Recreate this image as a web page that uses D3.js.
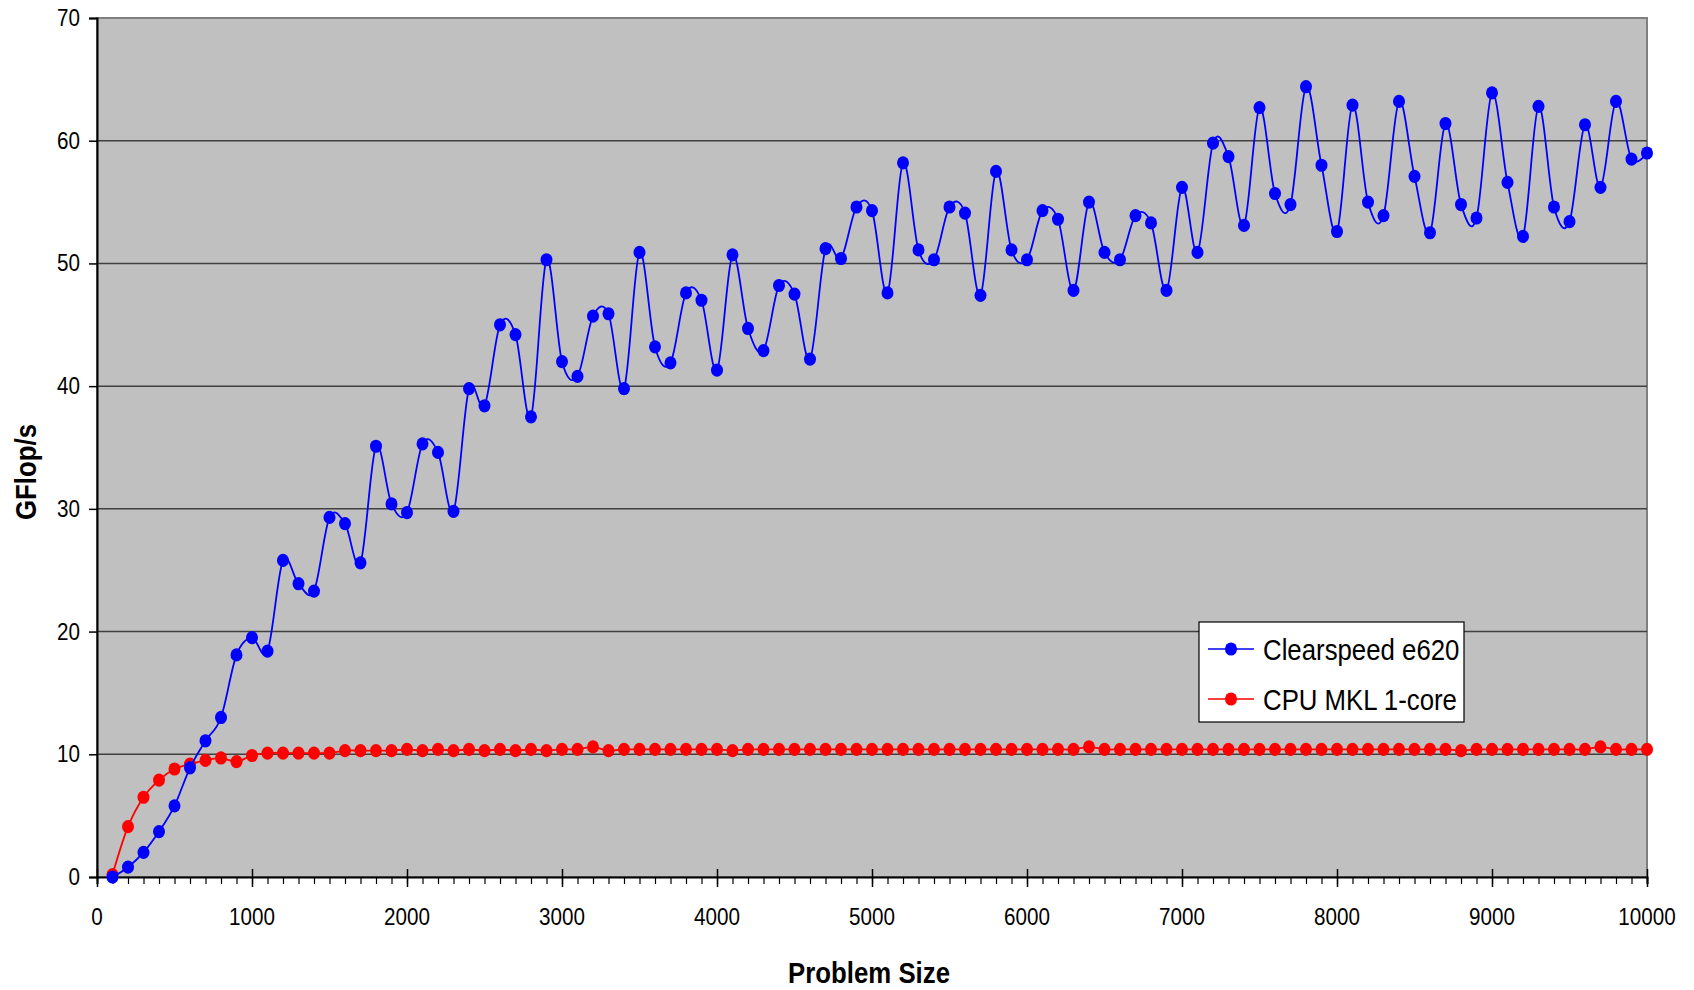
<!DOCTYPE html>
<html>
<head>
<meta charset="utf-8">
<script src="https://cdn.jsdelivr.net/npm/d3@7"></script>
<style>
  body { margin: 0; background: #fff; }
  svg { display: block; font-family: "Liberation Sans", Arial, sans-serif; }
</style>
</head>
<body>
<svg id="chart" width="1694" height="990"></svg>
<script>
// problem sizes 100..10000
const sizes = [100,200,300,400,500,600,700,800,900,1000,
  1100,1200,1300,1400,1500,1600,1700,1800,1900,2000,
  2100,2200,2300,2400,2500,2600,2700,2800,2900,3000,
  3100,3200,3300,3400,3500,3600,3700,3800,3900,4000,
  4100,4200,4300,4400,4500,4600,4700,4800,4900,5000,
  5100,5200,5300,5400,5500,5600,5700,5800,5900,6000,
  6100,6200,6300,6400,6500,6600,6700,6800,6900,7000,
  7100,7200,7300,7400,7500,7600,7700,7800,7900,8000,
  8100,8200,8300,8400,8500,8600,8700,8800,8900,9000,
  9100,9200,9300,9400,9500,9600,9700,9800,9900,10000];

const clearspeed = [0,0.8,2,3.7,5.8,8.9,11.1,13,18.1,19.5,
  18.4,25.8,23.9,23.3,29.3,28.8,25.6,35.1,30.4,29.7,
  35.3,34.6,29.8,39.8,38.4,45,44.2,37.5,50.3,42,
  40.8,45.7,45.9,39.8,50.9,43.2,41.9,47.6,47,41.3,
  50.7,44.7,42.9,48.2,47.5,42.2,51.2,50.4,54.6,54.3,
  47.6,58.2,51.1,50.3,54.6,54.1,47.4,57.5,51.1,50.3,
  54.3,53.6,47.8,55,50.9,50.3,53.9,53.3,47.8,56.2,
  50.9,59.8,58.7,53.1,62.7,55.7,54.8,64.4,58,52.6,
  62.9,55,53.9,63.2,57.1,52.5,61.4,54.8,53.7,63.9,
  56.6,52.2,62.8,54.6,53.4,61.3,56.2,63.2,58.5,59];

const cpuMkl = [0.2,4.1,6.5,7.9,8.8,9.2,9.5,9.7,9.4,9.9,
  10.1,10.1,10.1,10.1,10.1,10.3,10.3,10.3,10.3,10.4,
  10.3,10.4,10.3,10.4,10.3,10.4,10.3,10.4,10.3,10.4,
  10.4,10.6,10.3,10.4,10.4,10.4,10.4,10.4,10.4,10.4,
  10.3,10.4,10.4,10.4,10.4,10.4,10.4,10.4,10.4,10.4,
  10.4,10.4,10.4,10.4,10.4,10.4,10.4,10.4,10.4,10.4,
  10.4,10.4,10.4,10.6,10.4,10.4,10.4,10.4,10.4,10.4,
  10.4,10.4,10.4,10.4,10.4,10.4,10.4,10.4,10.4,10.4,
  10.4,10.4,10.4,10.4,10.4,10.4,10.4,10.3,10.4,10.4,
  10.4,10.4,10.4,10.4,10.4,10.4,10.6,10.4,10.4,10.4];

const seriesNames = ["Clearspeed e620", "CPU MKL 1-core"];
const seriesColors = ["#0000ff", "#ff0000"];
const yTicks = [0,10,20,30,40,50,60,70];
const xTicks = [0,1000,2000,3000,4000,5000,6000,7000,8000,9000,10000];

const svg = d3.select("#chart");
const plotLeft = 97, plotRight = 1647, plotTop = 18, plotBottom = 877;
const squeeze = 0.86; // the original text is a bit narrow
const dotRx = 6, dotRy = 6.6;

const x = d3.scaleLinear().domain([0, 10000]).range([plotLeft, plotRight]);
const y = d3.scaleLinear().domain([0, 70]).range([plotBottom, plotTop]);

// text with a horizontal squeeze, placed at (tx, ty)
function label(parent, tx, ty, str, size, anchor, bold, rot) {
  const t = parent.append("g")
    .attr("transform", `translate(${tx},${ty})` + (rot ? ` rotate(${rot})` : "") + ` scale(${squeeze},1)`)
    .append("text")
    .attr("text-anchor", anchor)
    .style("font-size", size + "px")
    .text(str);
  if (bold) t.style("font-weight", "bold");
  return t;
}

// plot area
svg.append("rect")
  .attr("x", plotLeft).attr("y", plotTop)
  .attr("width", plotRight - plotLeft).attr("height", plotBottom - plotTop)
  .attr("fill", "#c0c0c0")
  .attr("stroke", "#808080")
  .attr("stroke-width", 2);

// gridlines
svg.append("g").selectAll("line")
  .data(yTicks.filter(d => d > 0 && d < 70))
  .enter().append("line")
  .attr("x1", plotLeft).attr("x2", plotRight)
  .attr("y1", d => y(d)).attr("y2", d => y(d))
  .attr("stroke", "#404040")
  .attr("stroke-width", 1.5);

// y axis
const yAxis = svg.append("g")
  .attr("transform", `translate(${plotLeft},0)`)
  .call(d3.axisLeft(y).tickValues(yTicks).tickSize(8).tickFormat(""));
yAxis.select(".domain").attr("stroke", "#000").attr("stroke-width", 2);
yAxis.selectAll(".tick line").attr("stroke", "#000").attr("stroke-width", 1.5);

const yLab = svg.append("g");
yTicks.forEach(d => label(yLab, 80, y(d) + 8, d, 24, "end"));

// x axis: minor ticks every 100, major every 1000
const minor = d3.range(0, 10001, 100);
const xMinor = svg.append("g")
  .attr("transform", `translate(0,${plotBottom})`)
  .call(d3.axisBottom(x).tickValues(minor).tickSize(7).tickFormat(""));
xMinor.select(".domain").attr("stroke", "#000").attr("stroke-width", 2);
xMinor.selectAll(".tick line").attr("stroke", "#000").attr("stroke-width", 1.2);

const xMajor = svg.append("g")
  .attr("transform", `translate(0,${plotBottom})`)
  .call(d3.axisBottom(x).tickValues(xTicks).tickSize(10).tickFormat(""));
xMajor.select(".domain").remove();
xMajor.selectAll(".tick line").attr("y1", -8).attr("stroke", "#000").attr("stroke-width", 1.5);

const xLab = svg.append("g");
xTicks.forEach(d => label(xLab, x(d), 925, d, 24, "middle"));

// axis titles
label(svg, x(5000) - 3, 983, "Problem Size", 30, "middle", true);
label(svg, 36, 472, "GFlop/s", 30, "middle", true, -90);

// series
const series = [clearspeed, cpuMkl];
const line = d3.line()
  .x((d, i) => x(sizes[i]))
  .y(d => y(d))
  .curve(d3.curveCatmullRom.alpha(0));

// draw CPU first so Clearspeed line sits on top where they cross
[1, 0].forEach(k => {
  const g = svg.append("g");
  g.append("path")
    .datum(series[k])
    .attr("d", line)
    .attr("fill", "none")
    .attr("stroke", seriesColors[k])
    .attr("stroke-width", 1.8);
  g.selectAll("ellipse")
    .data(series[k])
    .enter().append("ellipse")
    .attr("cx", (d, i) => x(sizes[i]))
    .attr("cy", d => y(d))
    .attr("rx", dotRx)
    .attr("ry", dotRy)
    .attr("fill", seriesColors[k]);
});

// legend
const legend = svg.append("g").attr("transform", "translate(1199,622)");
legend.append("rect")
  .attr("width", 265).attr("height", 100)
  .attr("fill", "#fff").attr("stroke", "#000").attr("stroke-width", 1.2);

seriesNames.forEach((name, i) => {
  const ly = 27 + i * 50;
  legend.append("line")
    .attr("x1", 9).attr("x2", 55)
    .attr("y1", ly).attr("y2", ly)
    .attr("stroke", seriesColors[i]).attr("stroke-width", 1.5);
  legend.append("ellipse")
    .attr("cx", 32).attr("cy", ly)
    .attr("rx", dotRx).attr("ry", dotRy)
    .attr("fill", seriesColors[i]);
  label(legend, 64, ly + 11, name, 30, "start");
});
</script>
</body>
</html>
